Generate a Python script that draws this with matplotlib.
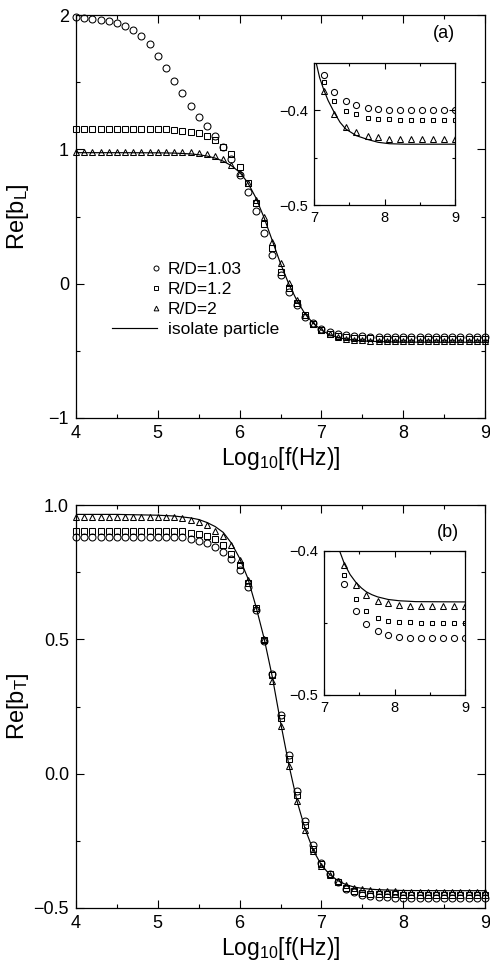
import numpy as np
import matplotlib
matplotlib.use("Agg")
import matplotlib.pyplot as plt
from matplotlib.legend_handler import HandlerLine2D
from matplotlib.lines import Line2D
from matplotlib.ticker import MultipleLocator, FixedLocator

plt.rcParams['font.family'] = ['Liberation Sans', 'DejaVu Sans']
plt.rcParams['mathtext.fontset'] = 'custom'
plt.rcParams['mathtext.rm'] = 'Liberation Sans'
plt.rcParams['mathtext.it'] = 'Liberation Sans:italic'

# ---------------- data ----------------
x_main = [4.0, 4.1, 4.2, 4.3, 4.4, 4.5, 4.6, 4.7, 4.8, 4.9,
          5.0, 5.1, 5.2, 5.3, 5.4, 5.5, 5.6, 5.7, 5.8, 5.9,
          6.0, 6.1, 6.2, 6.3, 6.4, 6.5, 6.6, 6.7, 6.8, 6.9,
          7.0, 7.1, 7.2, 7.3, 7.4, 7.5, 7.6, 7.7, 7.8, 7.9,
          8.0, 8.1, 8.2, 8.3, 8.4, 8.5, 8.6, 8.7, 8.8, 8.9, 9.0]

# panel (a): Re[b_L]
a_rd103 = [1.985, 1.977, 1.968, 1.960, 1.953, 1.938, 1.918, 1.888, 1.844, 1.782,
           1.697, 1.608, 1.509, 1.417, 1.322, 1.243, 1.171, 1.099, 1.020, 0.926,
           0.809, 0.684, 0.543, 0.375, 0.213, 0.064, -0.060, -0.159, -0.251, -0.296,
           -0.338, -0.363, -0.377, -0.385, -0.390, -0.393, -0.396, -0.398, -0.399, -0.400,
           -0.400, -0.400, -0.400, -0.400, -0.400, -0.400, -0.400, -0.400, -0.400, -0.400, -0.400]
a_rd12 = [1.151, 1.151, 1.151, 1.151, 1.151, 1.151, 1.151, 1.151, 1.151, 1.151,
          1.151, 1.151, 1.146, 1.139, 1.131, 1.119, 1.099, 1.066, 1.020, 0.964,
          0.870, 0.747, 0.600, 0.444, 0.263, 0.089, -0.035, -0.142, -0.235, -0.300,
          -0.345, -0.371, -0.388, -0.398, -0.403, -0.406, -0.408, -0.409, -0.410, -0.410,
          -0.410, -0.410, -0.410, -0.410, -0.410, -0.410, -0.410, -0.410, -0.410, -0.410, -0.410]
a_rd2 = [0.982, 0.982, 0.982, 0.982, 0.982, 0.982, 0.982, 0.982, 0.982, 0.982,
         0.982, 0.982, 0.982, 0.982, 0.978, 0.972, 0.962, 0.948, 0.928, 0.885,
         0.825, 0.751, 0.622, 0.494, 0.312, 0.151, 0.007, -0.122, -0.234, -0.300,
         -0.345, -0.378, -0.398, -0.410, -0.418, -0.423, -0.426, -0.428, -0.429, -0.430,
         -0.430, -0.430, -0.430, -0.430, -0.430, -0.430, -0.430, -0.430, -0.430, -0.430, -0.430]
a_line_x = [4.0, 4.5, 5.0, 5.2, 5.4, 5.5, 5.6, 5.7, 5.8, 5.9, 6.0, 6.1, 6.2, 6.3, 6.4, 6.5,
            6.6, 6.7, 6.8, 6.9, 7.0, 7.1, 7.2, 7.3, 7.4, 7.5, 7.6, 7.7, 7.8, 8.0, 8.5, 9.0]
a_line_y = [0.975, 0.975, 0.974, 0.972, 0.966, 0.960, 0.950, 0.935, 0.912, 0.878, 0.830,
            0.752, 0.638, 0.490, 0.320, 0.150, 0.000, -0.125, -0.225, -0.295, -0.345,
            -0.380, -0.400, -0.413, -0.421, -0.426, -0.429, -0.431, -0.433, -0.435, -0.436, -0.436]

# inset (a)
ia_x = [7.14, 7.29, 7.45, 7.60, 7.76, 7.91, 8.07, 8.22, 8.38, 8.53, 8.69, 8.84, 9.00]
ia_rd103 = [-0.363, -0.381, -0.391, -0.395, -0.398, -0.399, -0.400, -0.400, -0.400, -0.400, -0.400, -0.400, -0.400]
ia_rd12 = [-0.3705, -0.391, -0.401, -0.4045, -0.408, -0.409, -0.4097, -0.410, -0.4104, -0.4104, -0.4104, -0.4104, -0.4104]
ia_rd2 = [-0.380, -0.4045, -0.4177, -0.4236, -0.427, -0.4289, -0.430, -0.4305, -0.4305, -0.4305, -0.4305, -0.4305, -0.4305]
ia_line_x = [7.03, 7.08, 7.14, 7.20, 7.29, 7.37, 7.45, 7.60, 7.76, 7.91, 8.07, 8.30, 9.00]
ia_line_y = [-0.350, -0.366, -0.379, -0.390, -0.403, -0.413, -0.420, -0.427, -0.431, -0.434, -0.4355, -0.436, -0.436]

# panel (b): Re[b_T]
b_rd103 = [0.880, 0.880, 0.880, 0.880, 0.880, 0.880, 0.880, 0.880, 0.880, 0.880,
           0.880, 0.880, 0.880, 0.880, 0.872, 0.866, 0.858, 0.845, 0.826, 0.798,
           0.758, 0.694, 0.610, 0.492, 0.372, 0.220, 0.070, -0.064, -0.177, -0.265,
           -0.332, -0.374, -0.405, -0.430, -0.442, -0.451, -0.456, -0.458, -0.460, -0.461,
           -0.461, -0.461, -0.461, -0.461, -0.461, -0.461, -0.461, -0.461, -0.461, -0.461, -0.461]
b_rd12 = [0.905, 0.905, 0.905, 0.905, 0.905, 0.905, 0.905, 0.905, 0.905, 0.905,
          0.905, 0.905, 0.905, 0.905, 0.897, 0.893, 0.885, 0.873, 0.851, 0.816,
          0.777, 0.711, 0.615, 0.498, 0.367, 0.208, 0.055, -0.081, -0.191, -0.280,
          -0.337, -0.375, -0.404, -0.426, -0.438, -0.445, -0.447, -0.448, -0.449, -0.4497,
          -0.450, -0.450, -0.450, -0.450, -0.450, -0.450, -0.450, -0.450, -0.450, -0.450, -0.450]
b_rd2 = [0.955, 0.955, 0.955, 0.955, 0.955, 0.955, 0.955, 0.955, 0.955, 0.955,
         0.955, 0.955, 0.955, 0.950, 0.943, 0.935, 0.924, 0.905, 0.884, 0.850,
         0.795, 0.721, 0.618, 0.500, 0.345, 0.178, 0.029, -0.102, -0.208, -0.288,
         -0.343, -0.376, -0.399, -0.415, -0.425, -0.431, -0.434, -0.436, -0.437, -0.438,
         -0.4386, -0.4386, -0.4386, -0.4386, -0.4386, -0.4386, -0.4386, -0.4386, -0.4386, -0.4386, -0.4386]
b_line_x = [4.0, 4.5, 5.0, 5.2, 5.4, 5.5, 5.6, 5.7, 5.8, 5.9, 6.0, 6.1, 6.2, 6.3, 6.4, 6.5,
            6.6, 6.7, 6.8, 6.9, 7.0, 7.1, 7.2, 7.3, 7.4, 7.5, 7.6, 7.7, 7.8, 8.0, 8.5, 9.0]
b_line_y = [0.965, 0.965, 0.962, 0.959, 0.952, 0.946, 0.935, 0.920, 0.898, 0.858, 0.802,
            0.728, 0.622, 0.503, 0.360, 0.192, 0.036, -0.100, -0.205, -0.285, -0.340,
            -0.375, -0.398, -0.413, -0.422, -0.427, -0.430, -0.432, -0.433, -0.435, -0.4355, -0.4355]

# inset (b)
ib_x = [7.29, 7.45, 7.60, 7.76, 7.91, 8.07, 8.22, 8.38, 8.53, 8.69, 8.84, 9.00]
ib_rd103 = [-0.4233, -0.4416, -0.4508, -0.4554, -0.4584, -0.4596, -0.4603, -0.4607, -0.4607, -0.4607, -0.4607, -0.4607]
ib_rd12 = [-0.4168, -0.4337, -0.4418, -0.4464, -0.4485, -0.4492, -0.4497, -0.4499, -0.4501, -0.4501, -0.4501, -0.4501]
ib_rd2 = [-0.4099, -0.4238, -0.4307, -0.4349, -0.4365, -0.4376, -0.4381, -0.4383, -0.4386, -0.4386, -0.4386, -0.4386]
ib_line_x = [7.22, 7.29, 7.37, 7.45, 7.53, 7.60, 7.68, 7.76, 7.91, 8.07, 8.30, 9.00]
ib_line_y = [-0.400, -0.4092, -0.4165, -0.4218, -0.4258, -0.4285, -0.4305, -0.4320, -0.4338, -0.4347, -0.4353, -0.4355]

labels = ["R/D=1.03", "R/D=1.2", "R/D=2", "isolate particle"]

# ---------------- figure ----------------
W, H = 490, 967
fig = plt.figure(figsize=(W / 100, H / 100), dpi=100)

def fx(px):
    return px / W

def fy(py):
    return 1 - py / H

ax_a = fig.add_axes([fx(76), fy(418), fx(485) - fx(76), fy(15) - fy(418)])
ax_b = fig.add_axes([fx(76), fy(908), fx(485) - fx(76), fy(505) - fy(908)])
in_a = fig.add_axes([fx(314), fy(205), fx(455) - fx(314), fy(62.5) - fy(205)])
in_b = fig.add_axes([fx(324), fy(695), fx(465) - fx(324), fy(550.7) - fy(695)])

mk = dict(linestyle='none', markerfacecolor='none', markeredgecolor='black',
          markeredgewidth=0.75, clip_on=False)
main_sizes = {'o': 5.0, 's': 3.7, '^': 4.4}
inset_sizes = {'o': 4.4, 's': 3.3, '^': 3.9}


def draw(ax, x, ys, lx, ly, sizes, clip):
    handles = []
    for y, m in zip(ys, ['o', 's', '^']):
        kw = dict(mk)
        kw['clip_on'] = clip
        h, = ax.plot(x, y, marker=m, markersize=sizes[m], **kw)
        handles.append(h)
    hl, = ax.plot(lx, ly, color='black', linewidth=0.85)
    handles.append(hl)
    return handles


def style(ax, major, labsize, pad):
    ax.tick_params(which='both', direction='in', top=True, right=True,
                   labelsize=labsize, pad=pad, width=0.8, color='black')
    ax.tick_params(which='major', length=major)
    ax.tick_params(which='minor', length=major * 0.55)
    for s in ax.spines.values():
        s.set_linewidth(0.9)


# panel (a)
ha = draw(ax_a, x_main, [a_rd103, a_rd12, a_rd2], a_line_x, a_line_y, main_sizes, False)
ax_a.set_xlim(4, 9)
ax_a.set_ylim(-1, 2)
ax_a.xaxis.set_major_locator(MultipleLocator(1))
ax_a.xaxis.set_minor_locator(MultipleLocator(0.5))
ax_a.yaxis.set_major_locator(MultipleLocator(1))
ax_a.yaxis.set_minor_locator(MultipleLocator(0.5))
style(ax_a, 5.5, 13, 5)
ax_a.set_xlabel(r'Log$_\mathregular{10}$[f(Hz)]', fontsize=16.5)
ax_a.set_ylabel(r'Re[b$_\mathregular{L}$]', fontsize=17)
ax_a.xaxis.set_label_coords(0.5, -0.068)
ax_a.yaxis.set_label_coords(-0.11, 0.5)
ax_a.text(0.90, 0.953, '(a)', transform=ax_a.transAxes, fontsize=13,
          ha='center', va='center')


class EndMarkerHandler(HandlerLine2D):
    """Marker drawn at the right end of the legend handle area."""
    def create_artists(self, legend, orig_handle, xdescent, ydescent,
                       width, height, fontsize, trans):
        xm = -xdescent + width * 0.97
        ym = (height - ydescent) / 2
        line = Line2D([xm], [ym])
        self.update_prop(line, orig_handle, legend)
        line.set_transform(trans)
        return [line]


leg_handles = []
for m, s in zip(['o', 's', '^'], [3.6, 3.0, 3.4]):
    h, = ax_a.plot([], [], marker=m, markersize=s, linestyle='none',
                   markerfacecolor='none', markeredgecolor='black', markeredgewidth=0.7)
    leg_handles.append(h)
leg_handles.append(ha[3])
hmap = {h: EndMarkerHandler() for h in leg_handles[:3]}
leg = ax_a.legend(leg_handles, labels, loc='center left', bbox_to_anchor=(0.088, 0.295),
                  frameon=False, fontsize=12.5, handlelength=2.6, handletextpad=0.6,
                  labelspacing=0.28, borderpad=0, borderaxespad=0,
                  handler_map=hmap)

# inset (a)
draw(in_a, ia_x, [ia_rd103, ia_rd12, ia_rd2], ia_line_x, ia_line_y, inset_sizes, True)
in_a.set_xlim(7, 9)
in_a.set_ylim(-0.5, -0.35)
in_a.xaxis.set_major_locator(MultipleLocator(1))
in_a.xaxis.set_minor_locator(MultipleLocator(0.5))
in_a.yaxis.set_major_locator(FixedLocator([-0.5, -0.4]))
in_a.yaxis.set_minor_locator(FixedLocator([-0.45]))
style(in_a, 4.5, 10.5, 4)

# panel (b)
draw(ax_b, x_main, [b_rd103, b_rd12, b_rd2], b_line_x, b_line_y, main_sizes, False)
ax_b.set_xlim(4, 9)
ax_b.set_ylim(-0.5, 1.0)
ax_b.xaxis.set_major_locator(MultipleLocator(1))
ax_b.xaxis.set_minor_locator(MultipleLocator(0.5))
ax_b.yaxis.set_major_locator(MultipleLocator(0.5))
ax_b.yaxis.set_minor_locator(MultipleLocator(0.25))
style(ax_b, 5.5, 13, 5)
ax_b.set_xlabel(r'Log$_\mathregular{10}$[f(Hz)]', fontsize=16.5)
ax_b.set_ylabel(r'Re[b$_\mathregular{T}$]', fontsize=17)
ax_b.xaxis.set_label_coords(0.5, -0.068)
ax_b.yaxis.set_label_coords(-0.11, 0.5)
ax_b.text(0.91, 0.933, '(b)', transform=ax_b.transAxes, fontsize=13,
          ha='center', va='center')

# inset (b)
draw(in_b, ib_x, [ib_rd103, ib_rd12, ib_rd2], ib_line_x, ib_line_y, inset_sizes, True)
in_b.set_xlim(7, 9)
in_b.set_ylim(-0.5, -0.4)
in_b.xaxis.set_major_locator(MultipleLocator(1))
in_b.xaxis.set_minor_locator(MultipleLocator(0.5))
in_b.yaxis.set_major_locator(FixedLocator([-0.5, -0.4]))
in_b.yaxis.set_minor_locator(FixedLocator([-0.45]))
style(in_b, 4.5, 10.5, 4)

fig.savefig('out.png', dpi=100)
